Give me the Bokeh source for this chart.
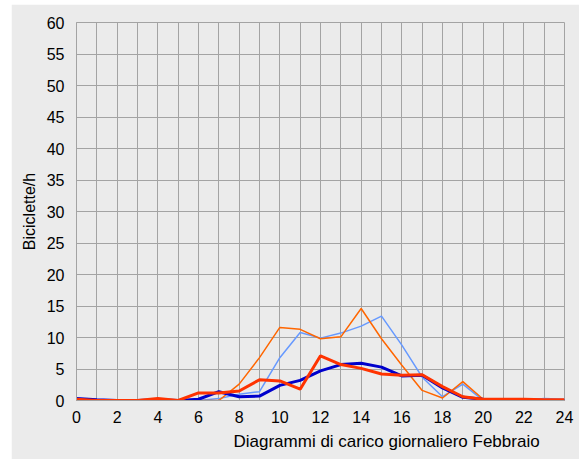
from bokeh.plotting import figure
from bokeh.models import FixedTicker, Range1d, Title
from bokeh.embed import file_html
from bokeh.resources import INLINE

hours = list(range(25))
x_tick_labels = [str(h) for h in range(0, 25, 2)]
y_ticks = list(range(0, 61, 5))

# series values (bicycles per hour)
light_blue = [0.3, 0, 0, 0, 0, 0, 0, 0.3, 1.0, 1.4, 6.8, 10.8, 9.9, 10.7, 11.8, 13.4, 8.8, 3.7, 0.6, 2.6, 0, 0, 0, 0.3, 0.2]
orange = [0, 0, 0, 0, 0.2, 0, 0, 0, 2.6, 6.8, 11.6, 11.3, 9.8, 10.1, 14.6, 9.8, 5.6, 1.6, 0.4, 3.0, 0.2, 0, 0, 0, 0]
dark_blue = [0.3, 0.1, 0, 0, 0.1, 0, 0.2, 1.4, 0.6, 0.7, 2.4, 3.2, 4.7, 5.7, 5.9, 5.3, 3.9, 4.0, 2.0, 0.5, 0.2, 0.1, 0.1, 0, 0]
red = [0.2, 0, 0, 0, 0.3, 0, 1.2, 1.2, 1.5, 3.3, 3.1, 1.8, 7.1, 5.7, 5.1, 4.2, 4.0, 4.1, 2.2, 0.6, 0.2, 0.2, 0.2, 0.1, 0.1]

BG = "#ebebeb"
GRID = "#a3a3a3"
FONT = "Liberation Sans"

p = figure(width=568, height=455, output_backend="svg", toolbar_location=None,
           x_range=Range1d(0, 24), y_range=Range1d(0, 60),
           min_border_left=65, min_border_right=15, min_border_top=18, min_border_bottom=59)
p.margin = (4, 0, 0, 11)
p.background_fill_color = BG
p.border_fill_color = BG
p.outline_line_color = GRID
p.outline_line_width = 1

p.xaxis.ticker = FixedTicker(ticks=[int(t) for t in x_tick_labels])
p.yaxis.ticker = FixedTicker(ticks=y_ticks)
p.xgrid.ticker = FixedTicker(ticks=hours)
p.ygrid.ticker = FixedTicker(ticks=y_ticks)
p.xgrid.grid_line_color = GRID
p.ygrid.grid_line_color = GRID
p.xgrid.grid_line_width = 1
p.ygrid.grid_line_width = 1

for ax in (p.xaxis, p.yaxis):
    ax.axis_line_color = GRID
    ax.major_tick_line_color = None
    ax.minor_tick_line_color = None
    ax.major_label_text_font = FONT
    ax.major_label_text_font_size = "16px"
    ax.major_label_text_color = "#000000"
    ax.axis_label_text_font = FONT
    ax.axis_label_text_font_size = "16px"
    ax.axis_label_text_font_style = "normal"
    ax.axis_label_text_color = "#000000"

p.xaxis.major_label_standoff = 4
p.yaxis.major_label_standoff = 6
p.yaxis.axis_label = "Biciclette/h"
p.yaxis.axis_label_standoff = 6

p.line(hours, light_blue, line_color="#6699ff", line_width=1.5)
p.line(hours, orange, line_color="#ff6600", line_width=1.5)
p.line(hours, dark_blue, line_color="#0000cc", line_width=3)
p.line(hours, red, line_color="#ff3300", line_width=3)

t = Title(text="Diagrammi di carico giornaliero Febbraio", align="left", offset=157,
          text_font=FONT, text_font_size="17px", text_font_style="normal",
          text_color="#000000", standoff=8)
p.add_layout(t, "below")

open("out.html", "w").write(file_html(p, INLINE))
